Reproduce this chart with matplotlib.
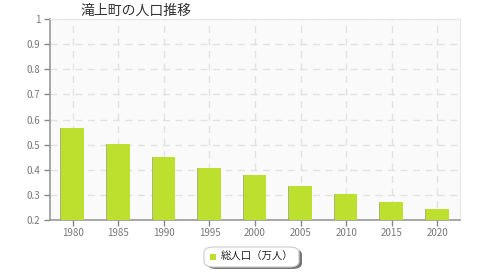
import numpy as np
import matplotlib.pyplot as plt
from matplotlib.patches import FancyBboxPatch

plt.rcParams['font.family'] = ['Noto Sans CJK JP', 'DejaVu Sans']

years = ['1980', '1985', '1990', '1995', '2000', '2005', '2010', '2015', '2020']
population = [0.566, 0.503, 0.451, 0.408, 0.379, 0.337, 0.304, 0.273, 0.244]
yticks = [0.2, 0.3, 0.4, 0.5, 0.6, 0.7, 0.8, 0.9, 1.0]
ytick_labels = ['0.2', '0.3', '0.4', '0.5', '0.6', '0.7', '0.8', '0.9', '1']

fig = plt.figure(figsize=(4.8, 2.8), dpi=100)
ax = fig.add_axes([50 / 480, 1 - 220 / 280, 410 / 480, 201 / 280])
ax.set_facecolor('#fafafa')

x = np.arange(len(years)) + 0.5
# faint shadow then bar
ax.bar(x - 0.02, population, width=0.5, color='#a9b57a', zorder=2)
ax.bar(x, population, width=0.5, color='#bde02e', zorder=3)

ax.set_xlim(0, len(years))
ax.set_ylim(0.2, 1.0)
ax.set_xticks(x)
ax.set_xticklabels(years)
ax.set_yticks(yticks)
ax.set_yticklabels(ytick_labels)
ax.tick_params(colors='#888888', labelsize=7, length=4, width=1)
ax.tick_params(axis='x', labelcolor='#777777', pad=2)
ax.tick_params(axis='y', labelcolor='#777777', pad=3)

ax.grid(True, color='#e2e2e2', linestyle=(0, (5, 4)), linewidth=1, zorder=1)
for s in ['top', 'right']:
    ax.spines[s].set_color('#e6e6e6')
for s in ['left', 'bottom']:
    ax.spines[s].set_color('#999999')
    ax.spines[s].set_linewidth(1.2)

fig.text(80 / 480, 1 - 11 / 280, '滝上町の人口推移', fontsize=10, color='#333333',
         ha='left', va='center')

# legend box with shadow
shadow = FancyBboxPatch((207 / 480, 1 - 269 / 280), 95 / 480, 20 / 280,
                        boxstyle='round,pad=0,rounding_size=0.02',
                        transform=fig.transFigure, facecolor='#777777',
                        edgecolor='none', zorder=1)
box = FancyBboxPatch((204 / 480, 1 - 267 / 280), 95 / 480, 20 / 280,
                     boxstyle='round,pad=0,rounding_size=0.02',
                     transform=fig.transFigure, facecolor='white',
                     edgecolor='#cccccc', linewidth=0.8, zorder=2)
fig.patches.extend([shadow, box])
fig.patches.append(plt.Rectangle((210 / 480, 1 - 260 / 280), 6 / 480, 6 / 280,
                                 transform=fig.transFigure, facecolor='#bde02e',
                                 edgecolor='none', zorder=3))
fig.text(221 / 480, 1 - 257 / 280, '総人口（万人）', fontsize=7.5, color='#222222',
         ha='left', va='center')

fig.savefig('out.png', dpi=100)
